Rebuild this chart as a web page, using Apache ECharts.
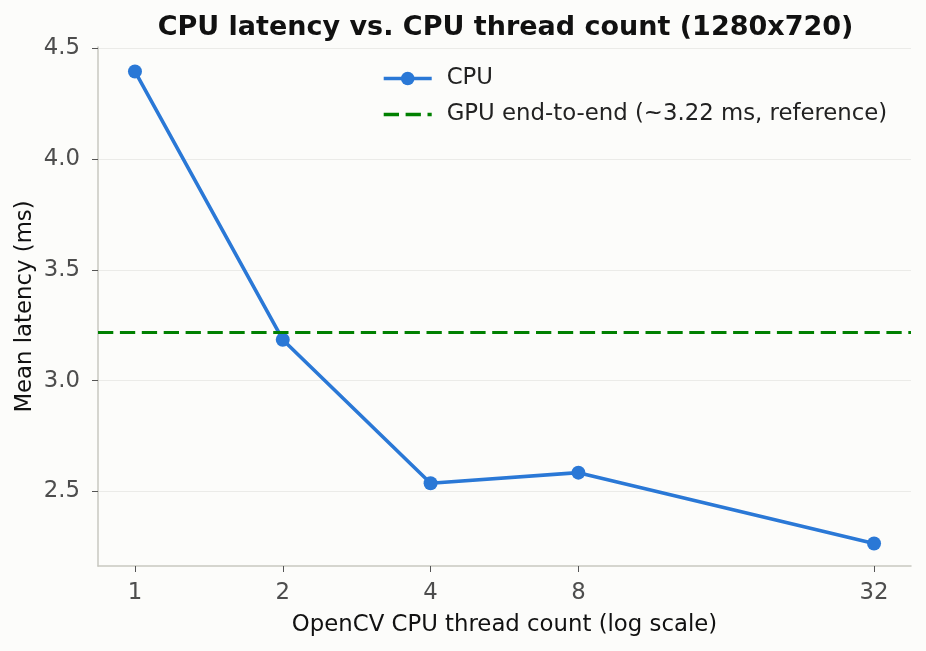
<!DOCTYPE html>
<html><head><meta charset="utf-8">
<script src="https://cdn.jsdelivr.net/npm/echarts@6/dist/echarts.min.js"></script>
<style>html,body{margin:0;padding:0;background:#fcfcfa;}#c{width:926px;height:651px;}</style>
</head><body><div id="c"></div>
<script>
const threads = [1, 2, 4, 8, 32];
const cpuLatency = [4.396, 3.185, 2.537, 2.585, 2.265];
const gpuLatency = 3.22;
const xTicks = [1, 2, 4, 8, 32];
const yTicks = [2.5, 3.0, 3.5, 4.0, 4.5];

const font = "'DejaVu Sans', sans-serif";
const fs = 22.8;
const chart = echarts.init(document.getElementById('c'));
chart.setOption({
  backgroundColor: '#fcfcfa',
  animation: false,
  title: {
    text: 'CPU latency vs. CPU thread count (1280x720)',
    left: 500.5, top: 9, textAlign: 'center',
    textStyle: {fontFamily: font, fontWeight: 'bold', fontSize: 27, color: '#111'}
  },
  legend: {
    left: 377, top: 62, orient: 'vertical', itemGap: 13, itemWidth: 48, itemHeight: 17,
    lineStyle: {width: 3.4},
    textStyle: {fontFamily: font, fontSize: fs, color: '#222', padding: [0, 0, 0, 10]},
    data: [
      {name: 'CPU'},
      {name: 'GPU end-to-end (~3.22 ms, reference)', itemStyle: {color: 'rgba(0,0,0,0)', borderWidth: 0}}
    ]
  },
  grid: {left: 98, right: 15, top: 47, bottom: 85},
  xAxis: {
    type: 'log', logBase: 2,
    min: Math.pow(2, -0.25), max: Math.pow(2, 5.25),
    name: 'OpenCV CPU thread count (log scale)', nameLocation: 'middle', nameGap: 48,
    nameMoveOverlap: false,
    nameTextStyle: {fontFamily: font, fontSize: fs, color: '#111'},
    axisLine: {lineStyle: {color: '#c8c8c0', width: 1.5}},
    axisTick: {show: true, customValues: xTicks, length: 6, lineStyle: {color: '#555'}},
    axisLabel: {customValues: xTicks, fontFamily: font, fontSize: fs, color: '#4d4d4d', margin: 16,
      formatter: v => String(Math.round(v))},
    splitLine: {show: false}
  },
  yAxis: {
    type: 'value', min: 2.1635, max: 4.5065,
    name: 'Mean latency (ms)', nameLocation: 'middle', nameGap: 61,
    nameMoveOverlap: false,
    nameTextStyle: {fontFamily: font, fontSize: fs, color: '#111'},
    axisLine: {show: true, lineStyle: {color: '#c8c8c0', width: 1.5}},
    axisTick: {show: true, customValues: yTicks, length: 6, lineStyle: {color: '#555'}},
    axisLabel: {customValues: yTicks, fontFamily: font, fontSize: fs, color: '#4d4d4d', margin: 18,
      formatter: v => v.toFixed(1)},
    splitLine: {show: true, lineStyle: {color: '#ebebe8', width: 1.2}}
  },
  series: [
    {
      name: 'CPU', type: 'line',
      data: threads.map((t, i) => [t, cpuLatency[i]]),
      symbol: 'circle', symbolSize: 14,
      lineStyle: {color: '#2a78d6', width: 3.6},
      itemStyle: {color: '#2a78d6'},
      z: 3
    },
    {
      name: 'GPU end-to-end (~3.22 ms, reference)', type: 'line',
      data: [], symbol: 'none',
      lineStyle: {color: '#008000', width: 3.2, type: [15.3, 6.6]},
      itemStyle: {color: '#008000'},
      markLine: {
        silent: true, symbol: 'none', label: {show: false},
        lineStyle: {color: '#008000', width: 3.2, type: [15.3, 6.6]},
        data: [{yAxis: gpuLatency}]
      },
      z: 2
    }
  ]
});
</script></body></html>
